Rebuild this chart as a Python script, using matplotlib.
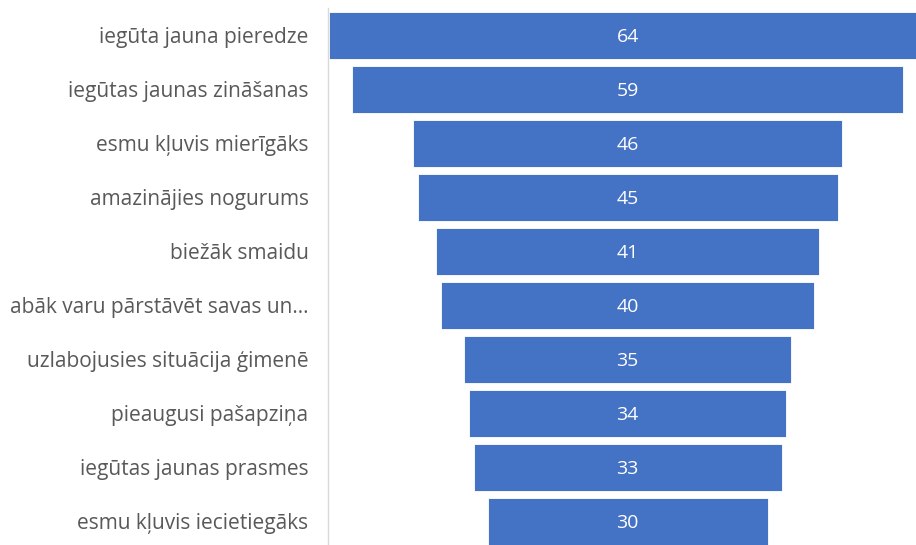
import matplotlib.pyplot as plt

categories = [
    "iegūta jauna pieredze",
    "iegūtas jaunas zināšanas",
    "esmu kļuvis mierīgāks",
    "amazinājies nogurums",
    "biežāk smaidu",
    "abāk varu pārstāvēt savas un...",
    "uzlabojusies situācija ģimenē",
    "pieaugusi pašapziņa",
    "iegūtas jaunas prasmes",
    "esmu kļuvis iecietiegāks",
]
values = [64, 59, 46, 45, 41, 40, 35, 34, 33, 30]

plt.rcParams["font.family"] = ["Open Sans", "DejaVu Sans"]

fig = plt.figure(figsize=(9.16, 5.45), dpi=100)
ax = fig.add_axes([328 / 916, 0, 1 - 328 / 916, 1 - 8 / 545])

ypos = list(range(len(values)))
lefts = [-v / 2 for v in values]
ax.barh(ypos, values, left=lefts, height=0.87, color="#4472C4",
        edgecolor="white", linewidth=0.6)

for y, v in zip(ypos, values):
    ax.text(0, y, str(v), color="white", ha="center", va="center_baseline",
            fontsize=14)

ax.set_xlim(-32.1, 30.9)
ax.set_ylim(9.44, -0.5)
ax.set_yticks(ypos)
ax.set_yticklabels(categories, fontsize=15, color="#595959")
ax.tick_params(axis="y", length=0, pad=14)
ax.set_xticks([])

for s in ["top", "right", "bottom"]:
    ax.spines[s].set_visible(False)
ax.spines["left"].set_color("#D9D9D9")
ax.spines["left"].set_linewidth(1)

fig.savefig("out.png", dpi=100)
